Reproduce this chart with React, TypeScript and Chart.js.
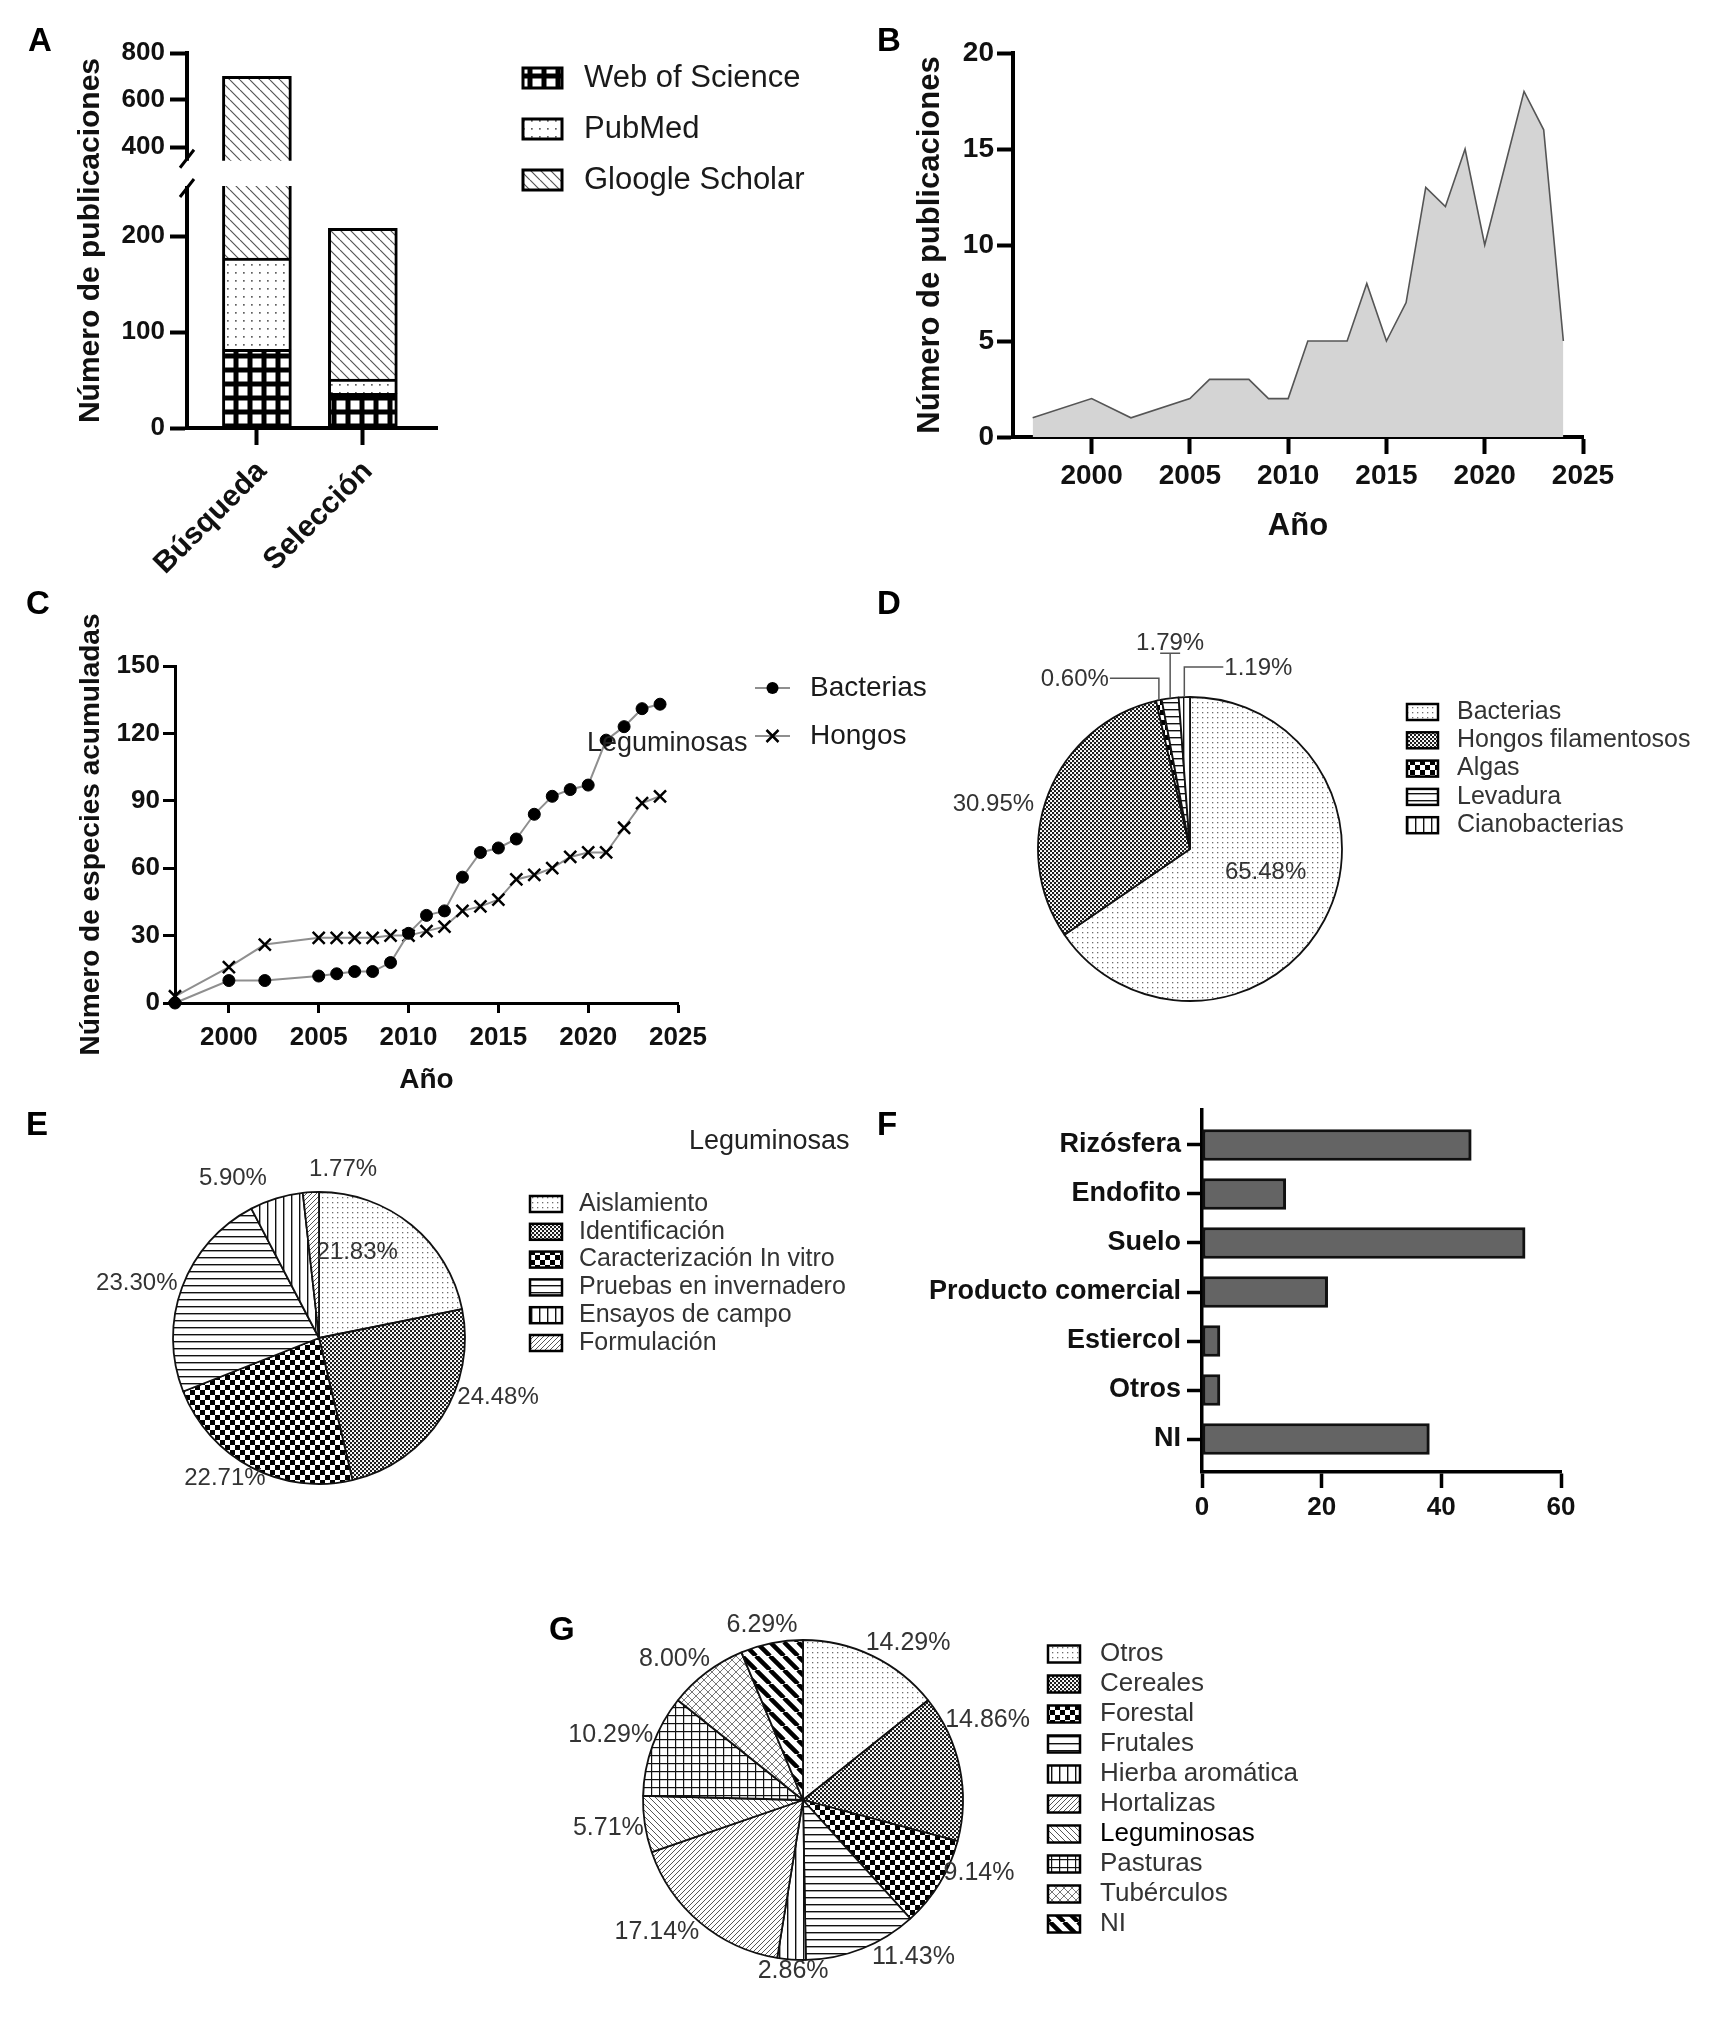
import React, { useEffect, useRef } from 'react';
import { Chart, registerables, LinearScale } from 'chart.js';

const FONT = '"Liberation Sans", Arial, Helvetica, sans-serif';
const INK = '#111111';

/* ------------------------------ DATA ------------------------------ */
// A
const A_CATEGORIES = ['Búsqueda', 'Selección'];
const A_SERIES = ['Web of Science', 'PubMed', 'Gloogle Scholar'];
const A_WOS = [82, 36];
const A_PUBMED = [95, 15];
const A_SCHOLAR = [524, 157];
const A_YTICKS = [0, 100, 200, 400, 600, 800];
// B
const B_YEARS = [1997, 2000, 2002, 2005, 2006, 2007, 2008, 2009, 2010, 2011, 2012, 2013, 2014, 2015, 2016, 2017, 2018, 2019, 2020, 2021, 2022, 2023, 2024];
const B_COUNTS = [1, 2, 1, 2, 3, 3, 3, 2, 2, 5, 5, 5, 8, 5, 7, 13, 12, 15, 10, 14, 18, 16, 5];
const B_XTICKS = [2000, 2005, 2010, 2015, 2020, 2025];
const B_YTICKS = [0, 5, 10, 15, 20];
// C
const C_SERIES = ['Bacterias', 'Hongos'];
const C_YEARS = [1997, 2000, 2002, 2005, 2006, 2007, 2008, 2009, 2010, 2011, 2012, 2013, 2014, 2015, 2016, 2017, 2018, 2019, 2020, 2021, 2022, 2023, 2024];
const C_BACTERIAS = [0, 10, 10, 12, 13, 14, 14, 18, 31, 39, 41, 56, 67, 69, 73, 84, 92, 95, 97, 117, 123, 131, 133];
const C_HONGOS = [3, 16, 26, 29, 29, 29, 29, 30, 30, 32, 34, 41, 43, 46, 55, 57, 60, 65, 67, 67, 78, 89, 92];
const C_XTICKS = [2000, 2005, 2010, 2015, 2020, 2025];
const C_YTICKS = [0, 30, 60, 90, 120, 150];
// D
const D_LABELS = ['Bacterias', 'Hongos filamentosos', 'Algas', 'Levadura', 'Cianobacterias'];
const D_VALUES = [65.48, 30.95, 0.6, 1.79, 1.19];
// E
const E_LABELS = ['Aislamiento', 'Identificación', 'Caracterización In vitro', 'Pruebas en invernadero', 'Ensayos de campo', 'Formulación'];
const E_VALUES = [21.83, 24.48, 22.71, 23.3, 5.9, 1.77];
// F
const F_CATEGORIES = ['Rizósfera', 'Endofito', 'Suelo', 'Producto comercial', 'Estiercol', 'Otros', 'NI'];
const F_VALUES = [45, 14, 54, 21, 3, 3, 38];
const F_XTICKS = [0, 20, 40, 60];
// G
const G_LABELS = ['Otros', 'Cereales', 'Forestal', 'Frutales', 'Hierba aromática', 'Hortalizas', 'Leguminosas', 'Pasturas', 'Tubérculos', 'NI'];
const G_VALUES = [14.29, 14.86, 9.14, 11.43, 2.86, 17.14, 5.71, 10.29, 8.0, 6.29];

/* ------------------------------ STYLE CONFIG ------------------------------ */
const A_BREAK = { low: 250, high: 350, fLow: 0.64, fHigh: 0.718 };
const A_FILLS = ['wos', 'dotsA', 'backA'];
const D_FILLS = ['dots', 'dense', 'checker', 'hlines', 'vlines'];
const E_FILLS = ['dots', 'dense', 'checker', 'hlines', 'vlines', 'fwd'];
const G_FILLS = ['dots', 'dense', 'checker', 'hlines', 'vlines', 'fwd', 'back', 'grid', 'cross', 'thick'];

// label placement relative to each slice: angle offset (deg) from slice middle, radius multiple
const D_LABEL_POS: any[] = [
  { ang: -10.9, rad: 0.52, align: 'center' },
  { ang: -5.6, rad: 1.066, align: 'right' },
  { leader: { rise: 22, run: -49 } },
  { leader: { rise: 45, run: 0 } },
  { leader: { rise: 30, run: 39 } },
];
const E_LABEL_POS: any[] = [
  { ang: -15.2, rad: 0.64, align: 'center' },
  { ang: -9.6, rad: 1.03, align: 'left' },
  { ang: 6.3, rad: 1.155, align: 'center' },
  { ang: 0.8, rad: 1.04, align: 'right' },
  { ang: -11.4, rad: 1.24, align: 'center' },
  { ang: 11.3, rad: 1.17, align: 'center' },
];
const G_LABEL_POS: any[] = [
  { ang: 8.1, rad: 1.18, align: 'center' },
  { ang: -17.6, rad: 1.02, align: 'left' },
  { ang: -3.9, rad: 0.99, align: 'left' },
  { ang: -13.5, rad: 1.2, align: 'center' },
  { ang: -0.8, rad: 1.07, align: 'center' },
  { ang: 7.8, rad: 1.23, align: 'center' },
  { ang: -1.2, rad: 1.01, align: 'right' },
  { ang: 3.3, rad: 1.02, align: 'right' },
  { ang: -5.4, rad: 1.19, align: 'center' },
  { ang: -1.9, rad: 1.12, align: 'center' },
];

/* ------------------------------ broken axis scale ------------------------------ */
class BrokenLinearScale extends LinearScale {
  static id = 'brokenLinear';
  static defaults = {};
  _frac(v: number) {
    const { low, high, fLow, fHigh } = A_BREAK;
    const min = this.min as number;
    const max = this.max as number;
    if (v <= low) return ((v - min) / (low - min)) * fLow;
    if (v >= high) return fHigh + ((v - high) / (max - high)) * (1 - fHigh);
    return fLow + ((v - low) / (high - low)) * (fHigh - fLow);
  }
  getPixelForValue(v: any) {
    if (v === null || v === undefined || isNaN(v)) return NaN;
    return this.getPixelForDecimal(this._frac(+v));
  }
  getValueForPixel(p: number) {
    const d = this.getDecimalForPixel(p);
    const { low, high, fLow, fHigh } = A_BREAK;
    const min = this.min as number;
    const max = this.max as number;
    if (d <= fLow) return min + (d / fLow) * (low - min);
    if (d >= fHigh) return high + ((d - fHigh) / (1 - fHigh)) * (max - high);
    return low + ((d - fLow) / (fHigh - fLow)) * (high - low);
  }
}

Chart.register(...registerables, BrokenLinearScale as any);

/* ------------------------------ patterns ------------------------------ */
function tile(size: number, draw: (g: CanvasRenderingContext2D) => void, bg = '#ffffff'): CanvasPattern {
  const c = document.createElement('canvas');
  c.width = size;
  c.height = size;
  const g = c.getContext('2d') as CanvasRenderingContext2D;
  g.fillStyle = bg;
  g.fillRect(0, 0, size, size);
  draw(g);
  return g.createPattern(c, 'repeat') as CanvasPattern;
}
function diag(g: CanvasRenderingContext2D, s: number, dir: number, color: string, lw: number) {
  g.strokeStyle = color;
  g.lineWidth = lw;
  g.beginPath();
  for (const k of [-1, 0, 1]) {
    if (dir > 0) {
      g.moveTo(k * s, s);
      g.lineTo(k * s + s, 0);
    } else {
      g.moveTo(k * s, 0);
      g.lineTo(k * s + s, s);
    }
  }
  g.stroke();
}
function makePatterns(): Record<string, CanvasPattern> {
  return {
    dots: tile(5, (g) => { g.fillStyle = '#6c6c6c'; g.fillRect(2, 2, 1.3, 1.3); }),
    dotsA: tile(8, (g) => { g.fillStyle = '#606060'; g.fillRect(3, 4, 1.7, 1.7); }),
    dense: tile(4, (g) => { g.fillStyle = '#1e1e1e'; g.fillRect(0, 0, 2.1, 2.1); g.fillRect(2, 2, 2.1, 2.1); }),
    checker: tile(10, (g) => { g.fillStyle = '#000'; g.fillRect(0, 0, 5, 5); g.fillRect(5, 5, 5, 5); }),
    hlines: tile(7, (g) => { g.fillStyle = '#111'; g.fillRect(0, 3, 7, 1.4); }),
    vlines: tile(8, (g) => { g.fillStyle = '#111'; g.fillRect(3, 0, 1.4, 8); }),
    fwd: tile(5, (g) => diag(g, 5, 1, '#555', 1)),
    back: tile(6, (g) => diag(g, 6, -1, '#555', 1)),
    backA: tile(10, (g) => diag(g, 10, -1, '#555', 1.2)),
    grid: tile(8, (g) => { g.fillStyle = '#111'; g.fillRect(0, 3, 8, 1.2); g.fillRect(3, 0, 1.2, 8); }),
    cross: tile(8, (g) => { diag(g, 8, 1, '#777', 1); diag(g, 8, -1, '#777', 1); }),
    thick: tile(14, (g) => diag(g, 14, -1, '#000', 4.5)),
    wos: tile(14, (g) => { g.fillStyle = '#fff'; g.fillRect(2.5, 2.5, 9, 9); }, '#000'),
  };
}

/* ------------------------------ helpers ------------------------------ */
const font = (size: number, bold = true) => ({ family: FONT, size, weight: bold ? 'bold' : 'normal', lineHeight: 1.2 });
const fixTicks = (vals: number[]) => (s: any) => { s.ticks = vals.map((v) => ({ value: v })); };
const fixSize = (dim: string, v: number) => (s: any) => {
  s[dim] = v;
  s.paddingTop = 0; s.paddingBottom = 0; s.paddingLeft = 0; s.paddingRight = 0;
};
const axisStyle = (width: number, tickLen: number) => ({
  offset: false,
  border: { display: true, color: '#000', width },
  grid: { display: true, offset: false, drawOnChartArea: false, drawTicks: true, tickLength: tickLen, tickWidth: width, tickColor: '#000' },
});
const baseOpts = { responsive: false, animation: false as const, events: [] as any[] };
const noPlugins = { legend: { display: false }, tooltip: { enabled: false } };

function boxLegend(id: string, labels: string[], fills: any[], cfg: any) {
  return {
    id,
    afterDraw(chart: any) {
      const ctx = chart.ctx as CanvasRenderingContext2D;
      ctx.save();
      labels.forEach((label, i) => {
        const cy = cfg.y + i * cfg.dy;
        ctx.fillStyle = fills[i];
        ctx.fillRect(cfg.x, cy - cfg.h / 2, cfg.w, cfg.h);
        ctx.lineWidth = cfg.lw;
        ctx.strokeStyle = '#000';
        ctx.strokeRect(cfg.x, cy - cfg.h / 2, cfg.w, cfg.h);
        ctx.fillStyle = (cfg.colors && cfg.colors[i]) || cfg.color;
        ctx.font = `${cfg.size}px ${FONT}`;
        ctx.textAlign = 'left';
        ctx.textBaseline = 'middle';
        ctx.fillText(label, cfg.tx, cy);
      });
      ctx.restore();
    },
  };
}

function pieLabels(id: string, values: number[], pos: any[], size: number, color: string) {
  return {
    id,
    afterDatasetsDraw(chart: any) {
      const meta = chart.getDatasetMeta(0);
      const ctx = chart.ctx as CanvasRenderingContext2D;
      ctx.save();
      ctx.font = `${size}px ${FONT}`;
      ctx.fillStyle = color;
      meta.data.forEach((arc: any, i: number) => {
        const { x, y, startAngle, endAngle, outerRadius } = arc.getProps(['x', 'y', 'startAngle', 'endAngle', 'outerRadius'], true);
        const mid = (startAngle + endAngle) / 2;
        const p = pos[i];
        const text = values[i].toFixed(2) + '%';
        ctx.textBaseline = 'middle';
        if (p.leader) {
          const ex = x + Math.cos(mid) * outerRadius;
          const ey = y + Math.sin(mid) * outerRadius;
          const ly = ey - p.leader.rise;
          ctx.strokeStyle = '#555';
          ctx.lineWidth = 1.5;
          ctx.beginPath();
          ctx.moveTo(ex, ey);
          ctx.lineTo(ex, ly);
          if (p.leader.run !== 0) ctx.lineTo(ex + p.leader.run, ly);
          else { ctx.moveTo(ex - 10, ly); ctx.lineTo(ex + 10, ly); }
          ctx.stroke();
          if (p.leader.run < 0) { ctx.textAlign = 'right'; ctx.fillText(text, ex + p.leader.run - 1, ly + 1); }
          else if (p.leader.run > 0) { ctx.textAlign = 'left'; ctx.fillText(text, ex + p.leader.run + 1, ly + 1); }
          else { ctx.textAlign = 'center'; ctx.textBaseline = 'alphabetic'; ctx.fillText(text, ex, ly - 3); }
        } else {
          const a = mid + (p.ang * Math.PI) / 180;
          const d = p.rad * outerRadius;
          ctx.textAlign = p.align;
          ctx.fillText(text, x + Math.cos(a) * d, y + Math.sin(a) * d);
        }
      });
      ctx.restore();
    },
  };
}

/* ------------------------------ charts ------------------------------ */
function makeA(canvas: HTMLCanvasElement, P: any) {
  const series = [A_WOS, A_PUBMED, A_SCHOLAR];
  const fills = A_FILLS.map((k) => P[k]);
  const breakPlugin = {
    id: 'aBreak',
    afterDatasetsDraw(chart: any) {
      const ys = chart.scales.y;
      const ca = chart.chartArea;
      const ctx = chart.ctx as CanvasRenderingContext2D;
      const yHigh = ys.getPixelForValue(A_BREAK.high);
      const yLow = ys.getPixelForValue(A_BREAK.low);
      ctx.save();
      ctx.fillStyle = '#fff';
      ctx.fillRect(ca.left - 5, yHigh + 2, ca.right - ca.left + 10, yLow - yHigh - 4);
      ctx.strokeStyle = '#000';
      ctx.lineWidth = 3;
      ctx.beginPath();
      [yHigh, yLow].forEach((y0) => {
        ctx.moveTo(ca.left - 7, y0 + 9);
        ctx.lineTo(ca.left + 7, y0 - 9);
      });
      ctx.stroke();
      ctx.restore();
    },
  };
  return new Chart(canvas, {
    type: 'bar',
    data: {
      datasets: series.map((vals, k) => ({
        label: A_SERIES[k],
        data: vals.map((v, i) => ({ x: i, y: v })),
        backgroundColor: fills[k],
        borderColor: '#000',
        borderWidth: 3,
        barThickness: 69,
        borderSkipped: 'start',
      })),
    } as any,
    options: {
      ...baseOpts,
      layout: { padding: { left: 0, top: 33, right: 423, bottom: 0 } },
      plugins: noPlugins,
      scales: {
        x: {
          type: 'linear', stacked: true, min: -0.66, max: 1.7,
          afterBuildTicks: fixTicks(A_CATEGORIES.map((_, i) => i)),
          afterFit: fixSize('height', 172),
          ...axisStyle(4, 17),
          ticks: { minRotation: 45, maxRotation: 45, padding: 9, labelOffset: 5, color: INK, font: font(30), callback: (v: any) => A_CATEGORIES[v] ?? '' },
        },
        y: {
          type: 'brokenLinear', stacked: true, min: 0, max: 800,
          afterBuildTicks: fixTicks(A_YTICKS),
          afterFit: fixSize('width', 147),
          ...axisStyle(4, 17),
          ticks: { padding: 5, color: INK, font: font(26), callback: (v: any) => String(v) },
          title: { display: true, text: 'Número de publicaciones', color: INK, font: font(30), padding: { top: 33, bottom: 0 } },
        },
      },
    } as any,
    plugins: [breakPlugin, boxLegend('aLegend', A_SERIES, fills, { x: 483, y: 58, dy: 51, w: 39, h: 20, lw: 3, tx: 544, size: 31, color: '#1a1a1a' })],
  });
}

function makeB(canvas: HTMLCanvasElement) {
  return new Chart(canvas, {
    type: 'line',
    data: {
      datasets: [{
        data: B_YEARS.map((x, i) => ({ x, y: B_COUNTS[i] })),
        fill: 'origin', backgroundColor: '#d4d4d4', borderColor: '#555', borderWidth: 1.6, pointRadius: 0, tension: 0,
      }],
    } as any,
    options: {
      ...baseOpts,
      layout: { padding: { left: 0, top: 33, right: 77, bottom: 0 } },
      plugins: noPlugins,
      scales: {
        x: {
          type: 'linear', min: 1996, max: 2025,
          afterBuildTicks: fixTicks(B_XTICKS), afterFit: fixSize('height', 123),
          ...axisStyle(4, 17),
          ticks: { padding: 5, color: INK, font: font(28), callback: (v: any) => String(v) },
          title: { display: true, text: 'Año', color: INK, font: font(31), padding: { top: 0, bottom: 15 } },
        },
        y: {
          type: 'linear', min: 0, max: 20,
          afterBuildTicks: fixTicks(B_YTICKS), afterFit: fixSize('width', 153),
          ...axisStyle(4, 16),
          ticks: { padding: 3, color: INK, font: font(28), callback: (v: any) => String(v) },
          title: { display: true, text: 'Número de publicaciones', color: INK, font: font(31), padding: { top: 52, bottom: 0 } },
        },
      },
    } as any,
  });
}

function makeC(canvas: HTMLCanvasElement) {
  const legend = {
    id: 'cLegend',
    afterDraw(chart: any) {
      const ctx = chart.ctx as CanvasRenderingContext2D;
      ctx.save();
      chart.data.datasets.forEach((ds: any, i: number) => {
        const y = 108 + i * 48;
        const x1 = 755, x2 = 790, cx = (x1 + x2) / 2;
        ctx.strokeStyle = ds.borderColor; ctx.lineWidth = 2;
        ctx.beginPath(); ctx.moveTo(x1, y); ctx.lineTo(x2, y); ctx.stroke();
        if (ds.pointStyle === 'circle') {
          ctx.fillStyle = '#000'; ctx.beginPath(); ctx.arc(cx, y, 6, 0, Math.PI * 2); ctx.fill();
        } else {
          ctx.strokeStyle = '#000'; ctx.lineWidth = 2.5; const r = 6;
          ctx.beginPath(); ctx.moveTo(cx - r, y - r); ctx.lineTo(cx + r, y + r); ctx.moveTo(cx + r, y - r); ctx.lineTo(cx - r, y + r); ctx.stroke();
        }
        ctx.fillStyle = '#1a1a1a'; ctx.font = `28px ${FONT}`; ctx.textAlign = 'left'; ctx.textBaseline = 'middle';
        ctx.fillText(ds.label, 810, y);
      });
      ctx.restore();
    },
  };
  const common = { borderColor: '#8f8f8f', borderWidth: 2, tension: 0, fill: false, clip: false, pointBorderColor: '#000' };
  return new Chart(canvas, {
    type: 'line',
    data: {
      datasets: [
        { ...common, label: C_SERIES[0], data: C_YEARS.map((x, i) => ({ x, y: C_BACTERIAS[i] })), pointStyle: 'circle', pointRadius: 6, pointBackgroundColor: '#000', pointBorderWidth: 1 },
        { ...common, label: C_SERIES[1], data: C_YEARS.map((x, i) => ({ x, y: C_HONGOS[i] })), pointStyle: 'crossRot', pointRadius: 8.5, pointBackgroundColor: '#000', pointBorderWidth: 2.5 },
      ],
    } as any,
    options: {
      ...baseOpts,
      layout: { padding: { left: 0, top: 86, right: 282, bottom: 0 } },
      plugins: noPlugins,
      scales: {
        x: {
          type: 'linear', min: 1997, max: 2025,
          afterBuildTicks: fixTicks(C_XTICKS), afterFit: fixSize('height', 97),
          ...axisStyle(3, 10),
          ticks: { padding: 9, color: INK, font: font(26), callback: (v: any) => String(v) },
          title: { display: true, text: 'Año', color: INK, font: font(28), padding: { top: 0, bottom: 3 } },
        },
        y: {
          type: 'linear', min: 0, max: 150,
          afterBuildTicks: fixTicks(C_YTICKS), afterFit: fixSize('width', 175),
          ...axisStyle(3, 12),
          ticks: { padding: 3, color: INK, font: font(26), callback: (v: any) => String(v) },
          title: { display: true, text: 'Número de especies acumuladas', color: INK, font: font(28), padding: { top: 74, bottom: 0 } },
        },
      },
    } as any,
    plugins: [legend],
  });
}

function makePie(canvas: HTMLCanvasElement, P: any, id: string, labels: string[], values: number[], fillKeys: string[], radius: number, padding: any, labelPos: any[], labelSize: number, legendCfg: any) {
  const fills = fillKeys.map((k) => P[k]);
  return new Chart(canvas, {
    type: 'pie',
    data: {
      labels,
      datasets: [{ data: values, backgroundColor: fills, borderColor: '#111', borderWidth: 1.8, radius, hoverOffset: 0 }],
    } as any,
    options: {
      ...baseOpts,
      layout: { padding },
      plugins: noPlugins,
    } as any,
    plugins: [pieLabels(id + 'Labels', values, labelPos, labelSize, '#333'), boxLegend(id + 'Legend', labels, fills, legendCfg)],
  });
}

function makeF(canvas: HTMLCanvasElement) {
  return new Chart(canvas, {
    type: 'bar',
    data: {
      datasets: [{
        data: F_VALUES.map((v, i) => ({ x: v, y: i })),
        backgroundColor: '#646464', borderColor: '#111', borderWidth: 3, borderSkipped: false, barThickness: 31,
      }],
    } as any,
    options: {
      ...baseOpts,
      indexAxis: 'y',
      layout: { padding: { left: 0, top: 10, right: 152, bottom: 0 } },
      plugins: noPlugins,
      scales: {
        x: {
          type: 'linear', min: 0, max: 60,
          afterBuildTicks: fixTicks(F_XTICKS), afterFit: fixSize('height', 88),
          ...axisStyle(3.5, 16),
          ticks: { padding: 4, color: INK, font: font(26), callback: (v: any) => String(v) },
        },
        y: {
          type: 'linear', reverse: true, min: -0.714, max: 6.673,
          afterBuildTicks: fixTicks(F_CATEGORIES.map((_, i) => i)), afterFit: fixSize('width', 342),
          ...axisStyle(3.5, 15),
          ticks: { padding: 6, color: INK, font: font(27), callback: (v: any) => F_CATEGORIES[v] ?? '' },
        },
      },
    } as any,
  });
}

/* ------------------------------ layout ------------------------------ */
const SPECS = [
  { key: 'A', left: 40, top: 20, width: 820, height: 580 },
  { key: 'B', left: 860, top: 20, width: 800, height: 540 },
  { key: 'C', left: 0, top: 580, width: 960, height: 520 },
  { key: 'D', left: 860, top: 580, width: 853, height: 500 },
  { key: 'E', left: 0, top: 1100, width: 860, height: 480 },
  { key: 'F', left: 860, top: 1100, width: 853, height: 460 },
  { key: 'G', left: 560, top: 1600, width: 900, height: 419 },
];
const LETTERS = [
  { t: 'A', left: 28, top: 23 },
  { t: 'B', left: 877, top: 23 },
  { t: 'C', left: 26, top: 586 },
  { t: 'D', left: 877, top: 586 },
  { t: 'E', left: 26, top: 1107 },
  { t: 'F', left: 877, top: 1107 },
  { t: 'G', left: 549, top: 1612 },
];
const STRAY = [
  { t: 'Leguminosas', left: 587, top: 729 },
  { t: 'Leguminosas', left: 689, top: 1127 },
];

export default function App() {
  const refs = useRef<Record<string, HTMLCanvasElement | null>>({});
  useEffect(() => {
    document.body.style.margin = '0';
    const P = makePatterns();
    const r = refs.current;
    const charts: Chart[] = [
      makeA(r.A as HTMLCanvasElement, P),
      makeB(r.B as HTMLCanvasElement),
      makeC(r.C as HTMLCanvasElement),
      makePie(r.D as HTMLCanvasElement, P, 'd', D_LABELS, D_VALUES, D_FILLS, 152,
        { left: 170, top: 109, right: 363, bottom: 71 }, D_LABEL_POS, 24,
        { x: 547, y: 132, dy: 28.3, w: 31, h: 16, lw: 2.5, tx: 597, size: 25, color: '#333' }),
      makePie(r.E as HTMLCanvasElement, P, 'e', E_LABELS, E_VALUES, E_FILLS, 146,
        { left: 159, top: 78, right: 381, bottom: 82 }, E_LABEL_POS, 24,
        { x: 530, y: 104, dy: 27.8, w: 32, h: 16, lw: 2.5, tx: 579, size: 25, color: '#333' }),
      makeF(r.F as HTMLCanvasElement),
      makePie(r.G as HTMLCanvasElement, P, 'g', G_LABELS, G_VALUES, G_FILLS, 160,
        { left: 73, top: 30, right: 487, bottom: 49 }, G_LABEL_POS, 25,
        { x: 488, y: 54, dy: 30, w: 32, h: 17, lw: 2.5, tx: 540, size: 26, color: '#333', colors: G_LABELS.map((l) => (l === 'Leguminosas' ? '#000' : undefined)) }),
    ];
    return () => charts.forEach((c) => c.destroy());
  }, []);

  return (
    <div style={{ position: 'absolute', left: 0, top: 0, width: 1713, height: 2019, background: '#fff', overflow: 'hidden' }}>
      {SPECS.map((s) => (
        <canvas
          key={s.key}
          ref={(el) => { refs.current[s.key] = el; }}
          width={s.width}
          height={s.height}
          style={{ position: 'absolute', left: s.left, top: s.top, width: s.width, height: s.height }}
        />
      ))}
      {LETTERS.map((l) => (
        <div key={l.t} style={{ position: 'absolute', left: l.left, top: l.top, fontFamily: FONT, fontWeight: 700, fontSize: 33, lineHeight: '33px', color: '#000' }}>{l.t}</div>
      ))}
      {STRAY.map((s, i) => (
        <div key={i} style={{ position: 'absolute', left: s.left, top: s.top, fontFamily: FONT, fontSize: 27, lineHeight: '27px', color: '#222', whiteSpace: 'nowrap' }}>{s.t}</div>
      ))}
    </div>
  );
}
